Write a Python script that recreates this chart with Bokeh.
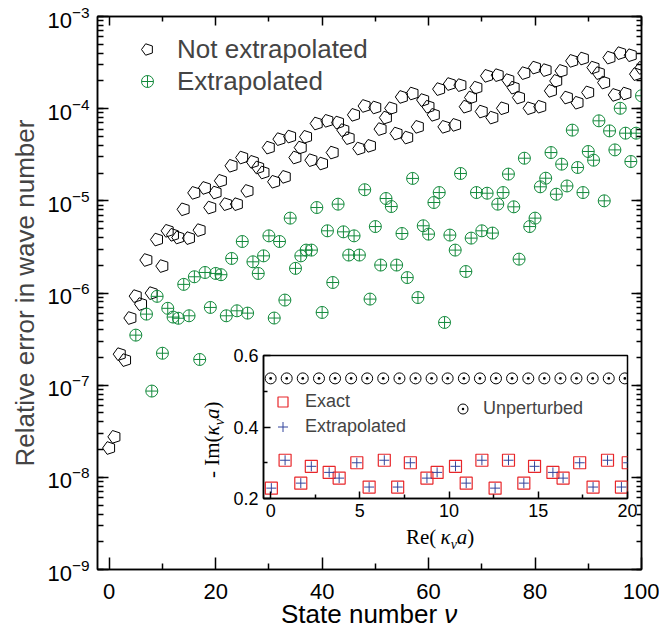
import math
from bokeh.plotting import figure
from bokeh.layouts import column
from bokeh.models import (Range1d, LinearAxis, LogAxis, LogTicker, FixedTicker, Legend,
                          LegendItem, ColumnDataSource, Ngon, CustomJSTickFormatter, Div)
from bokeh.embed import file_html
from bokeh.resources import INLINE

nan = float("nan")

# ---- main panel: relative error of the wave number versus state number ----
state = list(range(101))

not_extrapolated = [
    2.08e-8, 2.75e-8, 2.17e-7, 1.87e-7, 5.35e-7, 9.25e-7, 7.58e-7, 2.28e-6, 9.97e-7, 3.8e-6,
    1.96e-6, 4.73e-6, 4.28e-6, 4.0e-6, 8.09e-6, 3.94e-6, 1.22e-5, 4.81e-6, 1.38e-5, 8.45e-6,
    1.23e-5, 1.65e-5, 9.2e-6, 2.4e-5, 9.2e-6, 2.95e-5, 1.28e-5, 2.65e-5, 2.3e-5, 2.03e-5,
    3.78e-5, 1.61e-5, 4.67e-5, 1.82e-5, 4.98e-5, 2.95e-5, 3.78e-5, 4.95e-5, 2.76e-5, 6.9e-5,
    2.54e-5, 7.38e-5, 3.34e-5, 7.07e-5, 5.85e-5, 4.79e-5, 8.57e-5, 3.69e-5, 1.07e-4, 3.95e-5,
    1.03e-4, 6.0e-5, 8.0e-5, 1.01e-4, 5.37e-5, 1.34e-4, 4.86e-5, 1.46e-4, 6.35e-5, 1.24e-4,
    1.05e-4, 8.57e-5, 1.63e-4, 6.35e-5, 1.85e-4, 6.67e-5, 1.80e-4, 1.05e-4, 1.32e-4, 1.69e-4,
    9.3e-5, 2.27e-4, 8.0e-5, 2.31e-4, 1.01e-4, 2.04e-4, 1.69e-4, 1.32e-4, 2.43e-4, 1.01e-4,
    2.79e-4, 1.05e-4, 2.62e-4, 1.56e-4, 2.0e-4, 2.57e-4, 1.32e-4, 3.3e-4, 1.16e-4, 3.5e-4,
    1.5e-4, 2.79e-4, 2.43e-4, 1.92e-4, 3.58e-4, 1.41e-4, 4.0e-4, 1.46e-4, 3.8e-4, 2.37e-4,
    2.77e-4,
]

extrapolated = [
    nan, nan, nan, nan, nan, 3.49e-7, nan, 5.9e-7, 8.63e-8, 9.2e-7,
    2.22e-7, 6.82e-7, 5.48e-7, 5.32e-7, 1.24e-6, 5.66e-7, 1.5e-6, 1.9e-7, 1.67e-6, 6.97e-7,
    1.63e-6, 1.58e-6, 5.66e-7, 2.37e-6, 6.41e-7, 3.62e-6, 6.05e-7, 2.18e-6, 1.63e-6, 2.53e-6,
    4.17e-6, 5.35e-7, 3.62e-6, 8.38e-7, 6.49e-6, 1.85e-6, 2.53e-6, 2.92e-6, 2.92e-6, 8.46e-6,
    6.15e-7, 4.73e-6, 1.3e-6, 9.2e-6, 4.61e-6, 2.58e-6, 4.17e-6, 2.58e-6, 1.32e-5, 8.59e-7,
    5.26e-6, 2.01e-6, 1.06e-5, 8.67e-6, 2.01e-6, 4.42e-6, 1.47e-6, 1.75e-5, 8.93e-7, 5.36e-6,
    4.35e-6, 9.59e-6, 1.23e-5, 4.79e-7, 4.25e-6, 2.92e-6, 1.98e-5, 1.71e-6, 3.94e-6, 1.23e-5,
    4.73e-6, 1.21e-5, 4.47e-6, 9.2e-6, 1.23e-5, 1.95e-5, 8.61e-6, 2.33e-6, 2.9e-5, 5.26e-6,
    6.49e-6, 1.42e-5, 1.76e-5, 3.34e-5, 1.18e-5, 2.5e-5, 1.45e-5, 5.85e-5, 2.3e-5, 1.23e-5,
    3.43e-5, 2.76e-5, 7.38e-5, 1.0e-5, 5.74e-5, 3.57e-5, 1.01e-4, 5.42e-5, 2.67e-5, 5.42e-5,
    1.38e-4,
]

x_ticks = [0, 20, 40, 60, 80, 100]
x_minor = [10, 30, 50, 70, 90]

# ---- inset: complex wave numbers in the plane ----
re_unperturbed = [0.0, 0.90, 1.80, 2.71, 3.61, 4.51, 5.41, 6.31, 7.22, 8.12, 9.02, 9.92,
                  10.83, 11.73, 12.63, 13.53, 14.44, 15.34, 16.24, 17.14, 18.05, 18.95, 19.85]
im_unperturbed = [0.536] * len(re_unperturbed)

re_exact = [0.04, 0.81, 1.69, 2.28, 3.28, 3.84, 4.83, 5.52, 6.37, 7.12, 7.83, 8.76, 9.33, 10.36,
            10.96, 11.84, 12.58, 13.33, 14.19, 14.79, 15.82, 16.39, 17.32, 18.07, 18.88, 19.66, 20.04]
im_exact = [0.229, 0.307, 0.243, 0.290, 0.273, 0.257, 0.300, 0.232, 0.307, 0.232, 0.300, 0.257,
            0.273, 0.290, 0.243, 0.307, 0.229, 0.307, 0.243, 0.290, 0.273, 0.257, 0.300, 0.232,
            0.307, 0.232, 0.300]
re_extrap = list(re_exact)
im_extrap = list(im_exact)

inset_x_ticks = [0, 5, 10, 15, 20]
inset_x_minor = [2.5, 7.5, 12.5, 17.5]
inset_y_ticks = [0.2, 0.4, 0.6]
inset_y_minor = [0.3, 0.5]

SANS = "Liberation Sans"
SERIF = "Liberation Serif"
GREEN = "#138a3c"
BLANK = CustomJSTickFormatter(code="return ''")


def style_axis(ax, tick_in, minor_in, size="22px", standoff=8, width=1.5):
    ax.major_tick_in = tick_in
    ax.major_tick_out = 0
    ax.minor_tick_in = minor_in
    ax.minor_tick_out = 0
    ax.axis_line_width = width
    ax.major_tick_line_width = width
    ax.minor_tick_line_width = width
    ax.major_label_text_font = SANS
    ax.major_label_text_font_size = size
    ax.major_label_text_color = "black"
    ax.major_label_standoff = standoff


def place(model, left, top, **extra):
    model.styles = {"position": "absolute", "left": f"{left}px", "top": f"{top}px", **extra}


main = figure(width=659, height=634, y_axis_type="log",
              x_range=Range1d(-2.2, 100), y_range=Range1d(1e-9, 1e-3),
              output_backend="svg", toolbar_location=None,
              min_border_left=97, min_border_right=18, min_border_top=16, min_border_bottom=65,
              outline_line_color="black", outline_line_width=1.5)
main.grid.visible = False

main.xaxis.ticker = FixedTicker(ticks=x_ticks, minor_ticks=x_minor)
style_axis(main.xaxis[0], 12, 6, standoff=14)
main.yaxis.ticker = LogTicker(num_minor_ticks=10)
style_axis(main.yaxis[0], 11, 6, standoff=8)
main.yaxis.axis_label = "Relative error in wave number"
main.yaxis.axis_label_text_font = SANS
main.yaxis.axis_label_text_font_size = "26px"
main.yaxis.axis_label_text_font_style = "normal"
main.yaxis.axis_label_standoff = 4

top_axis = LinearAxis(ticker=FixedTicker(ticks=x_ticks, minor_ticks=x_minor), formatter=BLANK)
style_axis(top_axis, 9, 5, standoff=0)
main.add_layout(top_axis, "above")
right_axis = LogAxis(ticker=LogTicker(num_minor_ticks=10), formatter=BLANK)
style_axis(right_axis, 10, 5, standoff=0)
main.add_layout(right_axis, "right")

src = ColumnDataSource(dict(nu=state, ne=not_extrapolated, ex=extrapolated))
pent = Ngon(x="nu", y="ne", radius=1.25, radius_dimension="x", n=5, angle=math.pi / 2,
            fill_color=None, line_color="black", line_width=1)
r_pent = main.add_glyph(src, pent)
r_ext = main.scatter("nu", "ex", source=src, marker="circle_cross", size=12,
                     fill_color=None, line_color=GREEN, line_width=1)

leg = Legend(items=[LegendItem(label="Not extrapolated", renderers=[r_pent]),
                    LegendItem(label="Extrapolated", renderers=[r_ext])],
             location=(35, 472), margin=0, padding=0, spacing=0,
             glyph_width=30, glyph_height=32, label_height=32, label_standoff=15,
             label_text_font=SANS, label_text_font_size="26px",
             border_line_color=None, background_fill_alpha=0)
main.add_layout(leg, "center")

# ---- inset figure (its side borders line up with the main plot's inside the column) ----
inset = figure(width=479, height=207, x_range=Range1d(-0.4, 20), y_range=Range1d(0.2, 0.6),
               output_backend="svg", toolbar_location=None,
               min_border_left=97, min_border_right=18, min_border_top=10, min_border_bottom=54,
               border_fill_color=None, background_fill_color="white",
               outline_line_color="black", outline_line_width=1.5)
inset.grid.visible = False
inset.xaxis.ticker = FixedTicker(ticks=inset_x_ticks, minor_ticks=inset_x_minor)
inset.yaxis.ticker = FixedTicker(ticks=inset_y_ticks, minor_ticks=inset_y_minor)
style_axis(inset.xaxis[0], 7, 4, size="18px", standoff=5)
style_axis(inset.yaxis[0], 7, 4, size="18px", standoff=5)

r_unp = inset.scatter(re_unperturbed, im_unperturbed, marker="circle_dot", size=11,
                      fill_color=None, line_color="black", line_width=1)
r_exact = inset.scatter(re_exact, im_exact, marker="square", size=12,
                        fill_color=None, line_color="#e8262a", line_width=1.2)
r_extr = inset.scatter(re_extrap, im_extrap, marker="cross", size=10,
                       line_color="#33449c", line_width=1)

leg_a = Legend(items=[LegendItem(label="Exact", renderers=[r_exact]),
                      LegendItem(label="Extrapolated", renderers=[r_extr])],
               location=(7, 59), margin=0, padding=0, spacing=0,
               glyph_width=25, glyph_height=25, label_height=25, label_standoff=10,
               label_text_font=SANS, label_text_font_size="18px",
               border_line_color=None, background_fill_alpha=0)
leg_b = Legend(items=[LegendItem(label="Unperturbed", renderers=[r_unp])],
               location=(187, 77), margin=0, padding=0, spacing=0,
               glyph_width=25, glyph_height=25, label_height=25, label_standoff=8,
               label_text_font=SANS, label_text_font_size="18px",
               border_line_color=None, background_fill_alpha=0)
inset.add_layout(leg_a, "center")
inset.add_layout(leg_b, "center")
place(inset, 166, 345)

# ---- axis titles that carry italic / subscript parts ----
base = "white-space:nowrap;line-height:1;color:black;"
x_title = Div(text=f"<div style='{base}font:26px \"{SANS}\";'>State number <i>ν</i></div>",
              width=220, height=30)
place(x_title, 276, 594)

inset_x_title = Div(text=f"<div style='{base}font:21px \"{SERIF}\";'>Re(&thinsp;<i>κ</i>"
                         f"<sub style='font-size:14px'><i>ν</i></sub><i>a</i>)</div>",
                    width=100, height=28)
place(inset_x_title, 401, 520)

inset_y_title = Div(text=f"<div style='{base}font:21px \"{SERIF}\";text-align:center;'>- Im(<i>κ</i>"
                         f"<sub style='font-size:14px'><i>ν</i></sub><i>a</i>)</div>",
                    width=100, height=24)
place(inset_y_title, 157, 411, transform="rotate(-90deg)", **{"transform-origin": "50% 50%"})

root = column(main, inset, x_title, inset_x_title, inset_y_title)
open("out.html", "w").write(file_html(root, INLINE, title="Relative error in wave number"))
